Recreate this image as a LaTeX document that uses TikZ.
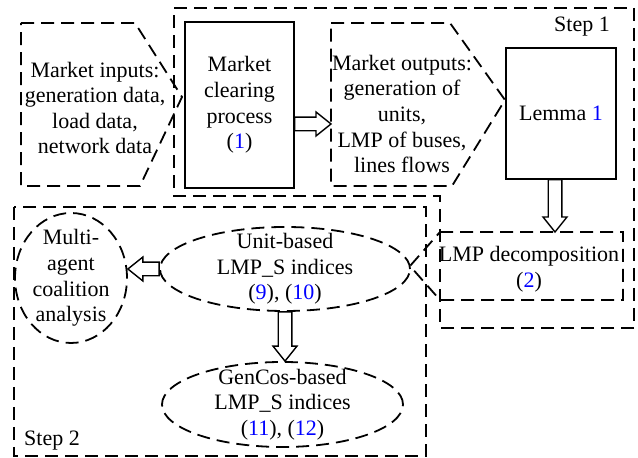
\documentclass[tikz,border=0pt]{standalone}
\usepackage{fontspec}
\setmainfont{Liberation Serif}
\usetikzlibrary{shapes.geometric,calc}
\definecolor{eqblue}{RGB}{0,0,255}
\newcommand{\eqn}[1]{(\textcolor{eqblue}{#1})}
% fleche creuse de #1 vers #2
\newcommand{\fleche}[2]{%
  \draw[fleche] let \p1=(#1), \p2=(#2), \n1={atan2(\y2-\y1,\x2-\x1)},
      \n2={veclen(\x2-\x1,\y2-\y1)} in
    [shift={(\p1)}, rotate=\n1] (0pt,3.4pt) -- ({\n2-7.5pt},3.4pt) -- ({\n2-7.5pt},6pt)
    -- ({\n2+0pt},0pt) -- ({\n2-7.5pt},-6pt) -- ({\n2-7.5pt},-3.4pt) -- (0pt,-3.4pt) -- cycle;}
\tikzset{
  texte/.style={inner sep=1pt, align=center},
  boite/.style={draw, line width=.7pt, inner sep=1pt, align=center},
  tiret/.style={line width=.9pt, dash pattern=on 6.5pt off 3.5pt},
  fleche/.style={draw, line width=.7pt, fill=white, line join=miter}
}
\begin{document}
\begin{tikzpicture}  % ------ Calcul et decomposition des LMP --------
      [x=.5pt, y=-.5pt, font=\fontsize{11}{12.8}\selectfont]
\useasboundingbox (0,0) rectangle (638,458);
    % les deux etapes
    \coordinate (E1) at (174,8);
    \coordinate (E2) at (634,8);
    \coordinate (E3) at (634,328);
    \coordinate (E4) at (440,328);
    \coordinate (E5) at (440,196);
    \coordinate (E6) at (174,196);
    \draw[tiret] (E1) -- (E2) -- (E3) -- (E4) -- (E5) -- (E6) -- cycle;
    \draw[tiret] (14,207) rectangle (426,456);
    \node (s1) at (582,27) {Step 1};
    \node (s2) at (52,441) {Step 2};
    % etape 1
    \draw[tiret] (21,23) -- (135,23) -- (182,97) -- (140,186) -- (21,186) -- cycle;
    \node[texte] (inputs) at (95,108)
          {Market inputs:\\generation data,\\load data,\\network data};
    \node[boite, minimum width=54.5pt, minimum height=83pt] (clear) at (239.5,105)
          {Market\\clearing\\process\\\eqn{1}};
    \coordinate (O1) at (331,23);
    \coordinate (O2) at (331,186);
    \draw[tiret] (O1) -- (450,23) -- (505,100) -- (452,186) -- (O2) -- cycle;
    \node[texte] (outs) at (402,114)
          {Market outputs:\\generation of\\units,\\LMP of buses,\\lines flows};
    \node[boite, minimum width=55pt, minimum height=65.5pt] (lemma) at (561,113.5)
          {Lemma \textcolor{eqblue}{1}};
    \coordinate (L1) at (440,232);
    \draw[tiret] (L1) -- (623,232) -- (623,300) -- (440,300) -- (410,266) -- cycle;
    \node[texte] (lmp) at (529,269.5) {LMP decomposition\\\eqn{2}};
    % etape 2
    \node[boite, tiret, ellipse, minimum width=125pt, minimum height=42pt,
          label={[texte]center:Unit-based\\LMP\_S indices\\\eqn{9}, \eqn{10}}]
          (unit) at (285,269) {};
    \node[boite, tiret, ellipse, minimum width=120.5pt, minimum height=42.5pt,
          label={[texte]center:GenCos-based\\LMP\_S indices\\\eqn{11}, \eqn{12}}]
          (gencos) at (282.5,404.5) {};
    \node[boite, tiret, ellipse, minimum width=56pt, minimum height=65pt,
          label={[texte]center:Multi-\\agent\\coalition\\analysis}]
          (multi) at (71,278) {};
    % fleches
    \coordinate (f1) at ($(clear.east)+(0,19)$);
    \coordinate (f2) at ($(lemma.south)+(-6,0)$);
    \fleche{f1}{O1 |- f1}
    \fleche{f2}{f2 |- L1}
    \fleche{unit.west}{unit.west -| multi.east}
    \fleche{unit.south}{unit.south |- gencos.north}
\end{tikzpicture}
\end{document}
